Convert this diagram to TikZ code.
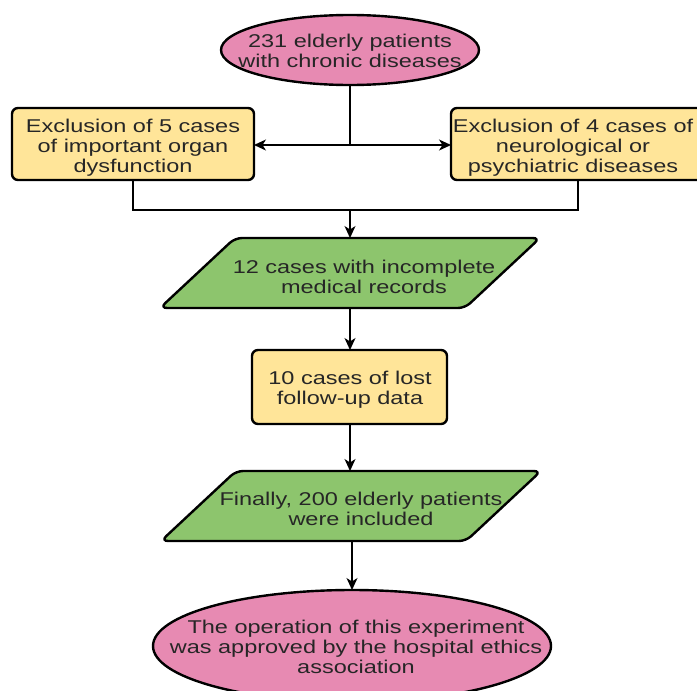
\documentclass[tikz,border=0pt]{standalone}
\usepackage{fontspec}
\setmainfont{Liberation Sans}[FakeStretch=1.27]
\usetikzlibrary{arrows.meta,calc}
\definecolor{pinkF}{HTML}{E78AB2}
\definecolor{yelF}{HTML}{FFE599}
\definecolor{grnF}{HTML}{8DC56D}
\definecolor{txt}{HTML}{262626}
\begin{document}
\begin{tikzpicture}[x=1pt,y=-1pt,
  txtS/.style={font=\fontsize{18.5}{20}\selectfont, text=txt, align=center, inner sep=0pt},
  ellS/.style={draw=black, line width=2.4pt, fill=pinkF},
  boxS/.style={draw=black, line width=2.4pt, fill=yelF, rounded corners=6pt},
  paraS/.style={draw=black, line width=2.4pt, fill=grnF, rounded corners=7pt},
  conn/.style={line width=1.4pt, draw=black},
  arr/.style={conn, -{Stealth[length=12pt,width=11pt,inset=3.5pt]}}]
\useasboundingbox (0,0) rectangle (697,691);

% top ellipse
\draw[ellS] (350,50) ellipse [x radius=129, y radius=35];
\node[txtS] (top) at (350,51) {231 elderly patients\\with chronic diseases};
\coordinate (topb) at (350,85);

% exclusion boxes
\draw[boxS] (12,108) rectangle (254,180);
\node[txtS] (lb) at (133,148) {Exclusion of 5 cases\\of important organ\\dysfunction};
\draw[boxS] (451,108) rectangle (705,180);
\node[txtS] (rb) at (573,148) {Exclusion of 4 cases of\\neurological or\\psychiatric diseases};
\coordinate (lbE) at (254,145);
\coordinate (rbW) at (451,145);
\coordinate (lbS) at (133,180);
\coordinate (rbS) at (578,180);
\coordinate (j1) at (350,145);
\coordinate (j2) at (350,210);

% parallelogram 1
\coordinate (p1c) at (350,273);
\draw[paraS] ($(p1c)+(-115,-35)$) -- ($(p1c)+(190,-35)$) -- ($(p1c)+(115,35)$) -- ($(p1c)+(-190,35)$) -- cycle;
\node[txtS] (p1) at (364,277) {12 cases with incomplete\\medical records};
\coordinate (p1t) at ($(p1c)+(0,-35)$);
\coordinate (p1b) at ($(p1c)+(0,35)$);

% box 2
\draw[boxS] (252,350) rectangle (447,424);
\node[txtS] (b2) at (350,390) {10 cases of lost\\follow-up data};
\coordinate (b2t) at (350,350);
\coordinate (b2b) at (350,424);

% parallelogram 2
\coordinate (p2c) at (351,506);
\draw[paraS] ($(p2c)+(-115,-35)$) -- ($(p2c)+(190,-35)$) -- ($(p2c)+(115,35)$) -- ($(p2c)+(-190,35)$) -- cycle;
\node[txtS] (p2) at (361,509) {Finally, 200 elderly patients\\were included};
\coordinate (p2t) at (350,471);
\coordinate (p2b) at (352,541);

% bottom ellipse
\draw[ellS] (352,646) ellipse [x radius=199, y radius=56];
\node[txtS] (be) at (356,647) {The operation of this experiment\\was approved by the hospital ethics\\association};
\coordinate (bet) at (352,590);

% connectors
\draw[conn] (topb) -- (j1);
\draw[arr] (j1) -- (lbE);
\draw[arr] (j1) -- (rbW);
\draw[conn] (lbS) |- (j2) -| (rbS);
\draw[arr] (j2) -- (p1t);
\draw[arr] (p1b) -- (b2t);
\draw[arr] (b2b) -- (p2t);
\draw[arr] (p2b) -- (bet);
\end{tikzpicture}
\end{document}
